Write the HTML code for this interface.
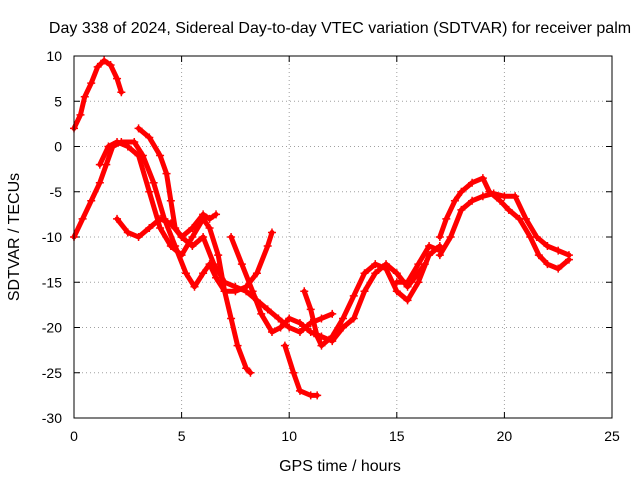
<!DOCTYPE html>
<html><head><meta charset="utf-8"><style>
body{margin:0;background:#fff}
svg{font-family:"Liberation Sans",sans-serif;font-size:14px}
.big{font-size:16px}
</style></head><body>
<svg id="chart" width="640" height="480">
<text class="big" x="340" y="33" text-anchor="middle">Day 338 of 2024, Sidereal Day-to-day VTEC variation (SDTVAR) for receiver palm</text>
<text class="big" x="340" y="471" text-anchor="middle">GPS time / hours</text>
<text class="big" transform="translate(19,237) rotate(-90)" text-anchor="middle">SDTVAR / TECUs</text>
<g id="grid"></g><g id="series"></g>
<rect x="74" y="56" width="538" height="362" fill="none" stroke="#000" stroke-width="1"/>
</svg>
<script>
const xTicks=[0,5,10,15,20,25];
const yTicks=[10,5,0,-5,-10,-15,-20,-25,-30];
const trackA=[[0,2],[0.3,3.5],[0.5,5.5],[0.8,7],[1.1,8.8],[1.4,9.5],[1.7,9],[2.0,7.5],[2.2,6]];
const trackB=[[0,-10],[0.4,-8],[0.8,-6],[1.2,-4],[1.5,-2],[1.8,0],[2.2,0.5],[2.8,0.5],[3.2,-1],[3.7,-4],[4.2,-8],[4.7,-11],[5.2,-14],[5.6,-15.5],[6,-14],[6.3,-13],[6.6,-14.5],[7,-16],[7.5,-16],[8,-15.5],[8.5,-14],[9,-11],[9.2,-9.5]];
const trackC=[[1.2,-2],[1.6,0],[2,0.5],[2.5,0],[3,-1],[3.5,-5],[4,-9],[4.5,-11],[5,-12],[5.5,-10],[6,-8],[6.3,-9],[6.7,-12],[7,-16],[7.3,-19],[7.6,-22],[8,-24.5],[8.2,-25]];
const trackD=[[3,2],[3.5,1],[4,-1],[4.3,-3],[4.5,-6],[4.7,-9],[5,-10],[5.5,-9],[6,-7.5],[6.3,-8],[6.6,-7.5]];
const trackE=[[2,-8],[2.5,-9.5],[3,-10],[3.5,-9],[4,-8],[4.5,-8.5],[5,-10],[5.5,-11],[6,-10],[6.5,-13],[7,-15],[7.5,-15.5],[8,-16],[8.5,-17],[9,-18],[9.5,-19],[10,-20],[10.5,-20.5],[11,-19.5],[11.5,-19],[12,-18.5]];
const trackF=[[7.3,-10],[7.8,-13],[8.3,-16],[8.7,-18.5],[9.2,-20.5],[9.6,-20],[10,-19],[10.5,-19.5],[11,-20.5],[11.5,-21],[12,-21.5],[12.5,-20],[13,-19],[13.5,-16],[14,-14],[14.5,-13],[15,-14],[15.5,-15.5],[16,-14],[16.3,-13]];
const trackG=[[9.8,-22],[10.2,-25],[10.5,-27],[11,-27.5],[11.3,-27.5]];
const trackH=[[10.7,-16],[11,-18],[11.3,-21],[11.5,-22],[12,-21],[12.5,-19],[13,-16.5],[13.5,-14],[14,-13],[14.5,-13.5],[15,-16],[15.5,-17],[16,-15],[16.5,-12],[17,-11]];
const trackI=[[17,-10],[17.3,-8],[17.7,-6],[18,-5],[18.5,-4],[19,-3.5],[19.3,-5],[19.8,-6],[20.2,-7],[20.7,-8],[21.2,-10],[21.6,-12],[22,-13],[22.5,-13.5],[23,-12.5]];
const trackJ=[[17,-12],[17.5,-10],[18,-7],[18.5,-6],[19,-5.5],[19.5,-5.2],[20,-5.5],[20.5,-5.5],[21,-8],[21.5,-10],[22,-11],[22.5,-11.5],[23,-12]];
const trackK=[[15,-15],[15.5,-15],[16,-13],[16.5,-11],[17,-11.5]];
const tracks=[trackA,trackB,trackC,trackD,trackE,trackF,trackG,trackH,trackI,trackJ,trackK];
const NS='http://www.w3.org/2000/svg';
const X0=74,X1=612,Y0=418,Y1=56;
function xs(t){return X0+(t-0)/(25-0)*(X1-X0);}
function ys(v){return Y0-(v+30)/(40)*(Y0-Y1);}
const grid=document.getElementById('grid');
xTicks.forEach(t=>{
  const x=xs(t);
  if(t>0&&t<25){const l=document.createElementNS(NS,'line');
  l.setAttribute('x1',x);l.setAttribute('x2',x);l.setAttribute('y1',Y1);l.setAttribute('y2',Y0);
  l.setAttribute('stroke','#a0a0a0');l.setAttribute('stroke-dasharray','1,3');
  
  grid.appendChild(l);}
  const tk=document.createElementNS(NS,'path');
  tk.setAttribute('d',`M${x},${Y0}v-6M${x},${Y1}v6`);tk.setAttribute('stroke','#000');
  
  grid.appendChild(tk);
  const tx=document.createElementNS(NS,'text');
  tx.setAttribute('x',x);tx.setAttribute('y',Y0+23);tx.setAttribute('text-anchor','middle');tx.textContent=t;
  
  grid.appendChild(tx);
});
yTicks.forEach(v=>{
  const y=ys(v);
  if(v>-30&&v<10){const l=document.createElementNS(NS,'line');
  l.setAttribute('x1',X0);l.setAttribute('x2',X1);l.setAttribute('y1',y);l.setAttribute('y2',y);
  l.setAttribute('stroke','#a0a0a0');l.setAttribute('stroke-dasharray','1,3');
  
  grid.appendChild(l);}
  const tk=document.createElementNS(NS,'path');
  tk.setAttribute('d',`M${X0},${y}h6M${X1},${y}h-6`);tk.setAttribute('stroke','#000');
  
  grid.appendChild(tk);
  const tx=document.createElementNS(NS,'text');
  tx.setAttribute('x',X0-12);tx.setAttribute('y',y+5);tx.setAttribute('text-anchor','end');tx.textContent=v;
  
  grid.appendChild(tx);
});
const sg=document.getElementById('series');
tracks.forEach(tr=>{
  const p=document.createElementNS(NS,'polyline');
  p.setAttribute('points',tr.map(d=>xs(d[0])+','+ys(d[1])).join(' '));
  p.setAttribute('fill','none');p.setAttribute('stroke','#ff0000');p.setAttribute('stroke-width','5');
  p.setAttribute('stroke-linejoin','round');p.setAttribute('stroke-linecap','round');
  
  sg.appendChild(p);
  tr.forEach(d=>{
    const m=document.createElementNS(NS,'path');
    const x=xs(d[0]),y=ys(d[1]);
    m.setAttribute('d',`M${x-4},${y}h8M${x},${y-4}v8`);m.setAttribute('stroke','#ff0000');m.setAttribute('stroke-width','1.5');
    
    sg.appendChild(m);
  });
});
</script>
</body></html>
